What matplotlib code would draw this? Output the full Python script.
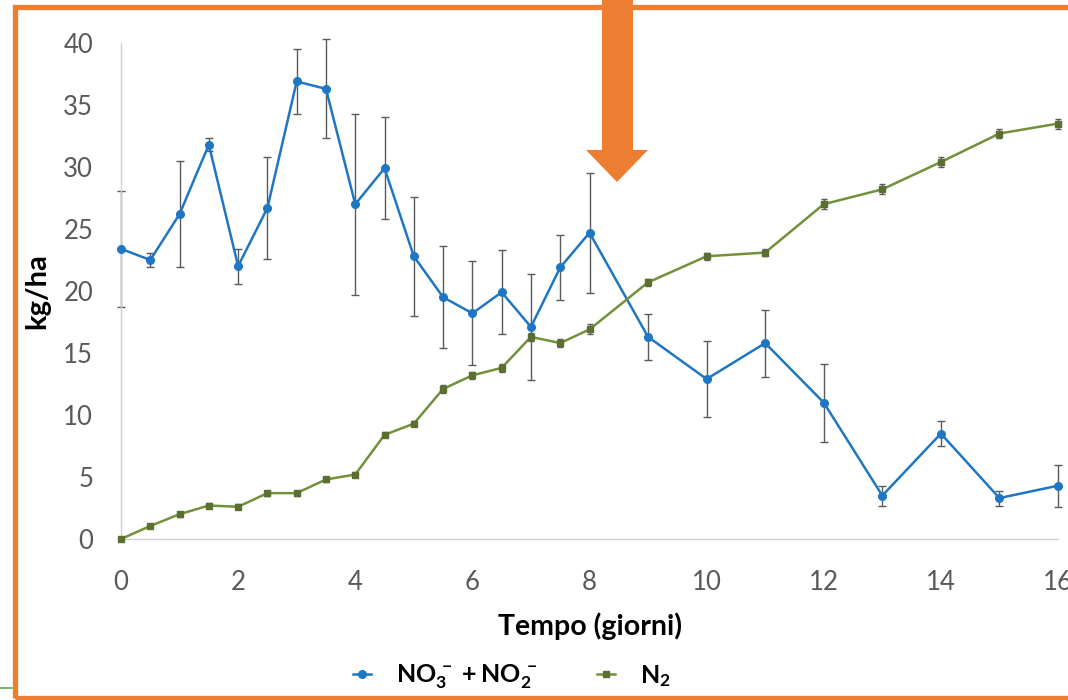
"""Nitrate + nitrite vs N2 over time (kg/ha), Excel-style chart in an orange frame."""

import matplotlib
matplotlib.use("Agg")
import matplotlib.pyplot as plt
from matplotlib.patches import Rectangle, Polygon
from matplotlib.lines import Line2D

plt.rcParams["font.family"] = ["Lato", "DejaVu Sans"]
plt.rcParams["mathtext.fontset"] = "custom"
plt.rcParams["mathtext.rm"] = "Lato"
plt.rcParams["mathtext.bf"] = "Lato:bold"

# days
giorni = [0, 0.5, 1, 1.5, 2, 2.5, 3, 3.5, 4, 4.5, 5, 5.5, 6, 6.5, 7, 7.5, 8,
          9, 10, 11, 12, 13, 14, 15, 16]

# NO3- + NO2- (kg/ha) and error
nox = [23.4, 22.5, 26.2, 31.8, 22.0, 26.7, 36.9, 36.3, 27.0, 29.9, 22.8, 19.5,
       18.2, 19.9, 17.1, 21.9, 24.7, 16.3, 12.9, 15.8, 11.0, 3.5, 8.5, 3.3, 4.3]
nox_err = [4.7, 0.6, 4.3, 0.5, 1.4, 4.1, 2.6, 4.0, 7.3, 4.1, 4.8, 4.1,
           4.2, 3.4, 4.3, 2.6, 4.85, 1.85, 3.1, 2.7, 3.15, 0.8, 1.0, 0.6, 1.7]

# N2 (kg/ha) and error
n2 = [0.0, 1.05, 2.0, 2.7, 2.6, 3.7, 3.7, 4.8, 5.2, 8.4, 9.3, 12.1,
      13.2, 13.8, 16.3, 15.8, 16.9, 20.7, 22.8, 23.1, 27.0, 28.2, 30.4, 32.7, 33.5]
n2_err = [0.1, 0.2, 0.2, 0.2, 0.2, 0.2, 0.2, 0.2, 0.2, 0.2, 0.2, 0.3,
          0.3, 0.3, 0.3, 0.3, 0.4, 0.3, 0.3, 0.3, 0.4, 0.4, 0.4, 0.4, 0.4]

W, H = 1068, 700


def px(x, y):
    # pixel (from top-left) -> figure fraction
    return (x / W, 1 - y / H)


fig = plt.figure(figsize=(W / 100, H / 100), dpi=100)
ax = fig.add_axes([121 / W, 161 / H, (1058 - 121) / W, (539 - 43) / H])

blue = "#1F77C4"
green_line = "#73903A"
green_mark = "#5B6F30"
err_col = "#5A5A5A"

ax.errorbar(giorni, nox, yerr=nox_err, fmt="none", ecolor=err_col,
            elinewidth=1, capsize=3, capthick=1, clip_on=False, zorder=2)
ax.errorbar(giorni, n2, yerr=n2_err, fmt="none", ecolor=err_col,
            elinewidth=1, capsize=2.5, capthick=1, clip_on=False, zorder=2)
l1, = ax.plot(giorni, nox, color=blue, lw=1.8, marker="o", ms=5.5,
              mfc=blue, mec=blue, clip_on=False, zorder=3)
l2, = ax.plot(giorni, n2, color=green_line, lw=1.8, marker="s", ms=4.5,
              mfc=green_mark, mec=green_mark, clip_on=False, zorder=3)

ax.set_xlim(0, 16)
ax.set_ylim(0, 40)
ax.set_xticks(range(0, 17, 2))
ax.set_yticks(range(0, 41, 5))
ax.tick_params(axis="both", length=0, labelsize=18.5, labelcolor="#595959")
ax.tick_params(axis="x", pad=22)
ax.tick_params(axis="y", pad=20)
for s in ["top", "right"]:
    ax.spines[s].set_visible(False)
for s in ["left", "bottom"]:
    ax.spines[s].set_color("#D0D0D0")
    ax.spines[s].set_linewidth(1)

ax.set_xlabel("Tempo (giorni)", fontsize=20.5, fontweight="bold", labelpad=13)
ax.set_ylabel("kg/ha", fontsize=21, fontweight="bold", labelpad=9)

fig.legend([l1, l2],
           [r"$\mathbf{NO_3^{\,-} + NO_2^{\,-}}$", r"$\mathbf{N_2}$"],
           loc="center", bbox_to_anchor=px(512, 677), ncol=2, frameon=False,
           fontsize=18, handlelength=0.7, columnspacing=2.4, handletextpad=1.0)

# orange frame and arrow drawn on top of the figure
fig.patches.append(Rectangle(px(14.5, 697.5), 1.1, (697.5 - 6.5) / H,
                             transform=fig.transFigure, fill=False,
                             edgecolor="#ED7D31", linewidth=3.8, zorder=10))
arrow = [px(602, -5), px(633, -5), px(633, 150), px(648, 150), px(617, 182),
         px(586, 150), px(602, 150)]
fig.patches.append(Polygon(arrow, closed=True, transform=fig.transFigure,
                           facecolor="#ED7D31", edgecolor="none", zorder=11))
fig.lines.append(Line2D([0, 12 / W], [1 - 688 / H, 1 - 688 / H],
                        transform=fig.transFigure, color="#5BA55B", lw=1.2))

plt.savefig("out.png", dpi=100, facecolor="white")
plt.close()
